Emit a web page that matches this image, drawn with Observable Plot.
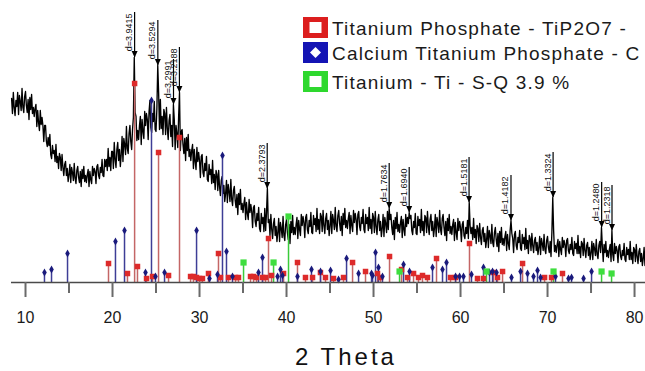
<!DOCTYPE html>
<html><head><meta charset="utf-8">
<script src="https://cdn.jsdelivr.net/npm/d3@7"></script>
<script src="https://cdn.jsdelivr.net/npm/@observablehq/plot@0.6"></script>
<style>
html,body{margin:0;padding:0;background:#fff;}
#wrap{position:relative;width:645px;height:371px;overflow:hidden;font-family:"Liberation Sans",Arial,sans-serif;}
#chart{position:absolute;left:0;top:0;}
#overlay{position:absolute;left:0;top:0;}
</style></head><body>
<div id="wrap"><div id="chart"></div><svg id="overlay" width="645" height="371"></svg></div>
<script>
// ---- measured scan (2θ from 8.4° in 0.1° steps), intensity in arbitrary units ----
const scanStart = 8.4;
const scanStep = 0.1;
const scanCounts = [
 184,169,190,175,167,182,
 176,190,168,187,181,172,194,175,170,186,
 191,177,170,183,163,185,173,188,169,175,
 166,174,178,156,172,160,152,172,158,165,
 157,141,157,157,141,136,145,137,148,128,
 124,137,129,132,121,138,120,126,114,129,
 125,112,128,115,107,118,121,107,114,101,
 108,118,100,115,110,102,119,104,99,112,
 116,105,100,111,96,113,104,116,101,107,
 100,108,113,96,111,103,99,116,107,114,
 111,99,116,118,107,104,115,110,123,107,
 106,123,116,123,112,134,116,125,112,131,
 131,114,140,123,115,133,140,122,133,116,
 128,146,121,144,138,128,156,134,129,149,
 157,141,133,153,165,225,170,166,142,152,
 143,157,166,138,163,151,144,171,157,169,
 163,143,171,182,155,150,169,161,181,153,
 151,174,217,190,153,183,154,166,148,173,
 169,148,175,154,143,162,168,146,157,136,
 178,163,133,157,149,135,166,190,132,151,
 153,138,129,144,122,145,132,148,126,133,
 122,132,138,114,133,121,113,135,121,130,
 122,105,126,128,110,106,119,112,126,103,
 101,118,108,113,99,122,100,108,93,112,
 108,92,112,96,87,102,106,89,97,81,
 89,102,80,98,91,81,103,83,77,92,
 96,82,75,88,68,89,78,93,73,79,
 70,79,85,63,80,69,63,83,70,78,
 71,55,75,77,61,56,69,62,75,54,
 51,69,59,65,51,74,52,70,94,60,
 63,47,68,53,44,59,64,47,56,41,
 50,64,41,60,54,45,66,47,42,58,
 63,50,43,58,39,61,50,67,48,55,
 48,58,65,44,62,53,47,68,57,66,
 60,45,65,68,53,49,62,56,70,50,
 49,67,58,64,51,74,53,63,49,69,
 66,51,72,57,49,64,69,53,62,47,
 57,71,49,68,62,53,75,56,51,67,
 72,59,52,66,47,69,58,74,55,62,
 54,64,70,49,67,57,51,72,60,69,
 63,48,68,71,56,52,65,59,73,53,
 50,68,59,65,52,75,54,63,49,69,
 65,50,71,56,48,63,68,52,61,46,
 54,68,46,65,59,50,71,53,74,63,
 68,55,48,62,43,65,54,70,51,58,
 50,60,66,45,63,53,47,68,56,65,
 59,70,64,67,52,48,61,55,69,49,
 48,66,57,63,50,73,52,61,47,67,
 65,50,71,56,48,63,68,52,61,46,
 54,68,46,65,59,50,72,53,48,64,
 68,55,47,61,42,64,52,68,49,56,
 48,58,63,42,60,50,43,64,52,61,
 55,41,58,61,47,44,55,49,62,44,
 80,57,49,55,43,64,45,53,39,57,
 54,41,59,45,38,52,55,41,49,35,
 43,56,35,52,47,39,58,40,36,50,
 55,43,36,49,31,51,40,55,38,44,
 37,46,51,32,48,39,33,52,62,49,
 44,30,48,51,37,33,45,40,52,34,
 32,48,39,45,33,54,34,42,29,47,
 44,32,49,37,30,42,45,32,40,28,
 35,46,28,44,39,32,48,33,29,42,
 46,35,30,41,26,50,85,52,31,37,
 30,38,43,26,41,33,28,45,35,42,
 38,26,42,44,32,29,38,33,45,29,
 27,41,34,39,29,47,29,36,25,41,
 39,27,44,32,25,37,40,27,35,23,
 30,41,23,39,34,27,43,28,24,37,
 41,30,55,36,21,38,30,41,26,32,
 25,33,38,21,52,28,22,39,29,36,
 32,20,36,38,26,23,32,27,39,23,
 21,35,28,33,23,41,23,30,19,35,
 33,21,38,26,19,31,34,21,29,17,
 24,35,17,33
];

// ---- reference patterns: [2θ, relative height] ----
const tip2o7Lines = [
 [19.54,19],[21.72,9],[22.54,199],[22.87,16],[23.91,4],[24.6,6],[25.29,130],[26.44,7],[27.7,145],
 [28.97,6],[29.3,6],[29.66,5],[30.0,4],[30.34,4],[31.03,9],[32.18,29],[32.41,5],[33.33,5],[34.14,5],
 [34.48,5],[35.86,6],[36.21,6],[36.55,5],[37.24,5],[37.59,5],[37.93,44],[38.28,7],[39.66,9],[41.26,20],
 [42.18,5],[42.99,5],[43.9,10],[44.48,5],[45.4,4],[46.55,5],[47.59,20],[49.08,11],[50.46,9],[50.8,5],
 [51.84,26],[53.22,13],[53.91,5],[54.6,9],[55.17,5],[55.63,7],[56.2,5],[57.24,24],[58.85,5],[59.43,5],
 [61.03,39],[61.95,4],[62.64,4],[63.79,10],[64.25,5],[64.83,11],[67.13,19],[69.66,5],[70.46,5],[71.72,9]
];
const caTiPhosphateLines = [
 [12.18,10],[12.99,13],[14.83,29],[20.34,41],[21.38,52],[23.79,10],[24.48,182],[24.94,6],[25.98,10],
 [29.66,52],[31.15,4],[32.07,8],[32.64,127],[33.1,31],[33.79,6],[36.78,10],[37.24,25],[38.97,6],
 [39.31,13],[39.54,7],[41.26,6],[42.87,13],[43.91,11],[45.06,12],[45.98,3],[46.9,24],[48.28,9],
 [49.77,9],[49.89,7],[50.23,30],[50.57,15],[51.03,6],[53.45,18],[54.14,11],[56.78,15],[57.93,13],
 [58.39,20],[59.43,6],[59.89,6],[60.34,6],[61.26,8],[62.64,15],[63.33,10],[63.68,11],[64.14,10],
 [65.86,5],[66.9,11],[67.7,9],[68.39,6],[68.85,12],[69.2,5],[70.92,6],[72.41,4],[72.76,5],[74.14,4],[75.06,11]
];
const titaniumLines = [
 [35.06,20],[38.51,20],[40.23,66],[52.99,11],[62.99,11],[70.69,11],[76.21,11],[77.36,9]
];

// ---- labelled peaks ----
const dLabels = ["d=3.9415","d=3.5294","d=3.2991","d=3.2188","d=2.3793","d=1.7634","d=1.6940","d=1.5181","d=1.4182","d=1.3324","d=1.2480","d=1.2318"];
const dTheta  = [22.54, 25.21, 27.01, 27.69, 37.78, 51.80, 54.10, 60.98, 65.80, 70.64, 76.22, 77.41];
const dPeak   = [225, 217, 178, 190, 94, 74, 70, 80, 62, 85, 55, 52];

// ---- axis & legend text ----
const majorTicks = [10, 20, 30, 40, 50, 60, 70, 80];
const minorTicks = [15, 25, 35, 45, 55, 65, 75];
const xTitle = "2 Theta";
const legendNames = ["Titanium Phosphate - TiP2O7 -", "Calcium Titanium Phosphate - C", "Titanium - Ti - S-Q 3.9 %"];
const legendColors = ["#dc1e1e", "#1414b4", "#2ed82e"];

const scan = scanCounts.map((c, i) => ({theta: +(scanStart + i * scanStep).toFixed(2), counts: c}));
const rows = pairs => pairs.map(([theta, h]) => ({theta, h}));
const red = rows(tip2o7Lines), blue = rows(caTiPhosphateLines), green = rows(titaniumLines);
const peaks = dLabels.map((label, i) => ({label, theta: dTheta[i], top: dPeak[i]}));

const arrowDown = {draw(ctx) { ctx.moveTo(0, 0); ctx.lineTo(-3, -6.5); ctx.lineTo(3, -6.5); ctx.closePath(); }};
const labelRise = 45;

const chart = Plot.plot({
  width: 645, height: 330,
  marginTop: 0, marginBottom: 48, marginLeft: 11, marginRight: 0,
  style: {background: "transparent", fontFamily: "'Liberation Sans', Arial, sans-serif", overflow: "visible"},
  x: {domain: [8.39, 81.26]},
  y: {domain: [0, 282], axis: null},
  marks: [
    Plot.line(scan, {x: "theta", y: "counts", stroke: "#000", strokeWidth: 1.35}),
    Plot.ruleX(red, {x: "theta", y1: 0, y2: "h", stroke: "#c46666", strokeWidth: 1.5}),
    Plot.ruleX(blue, {x: "theta", y1: 0, y2: "h", stroke: "#3e3e96", strokeWidth: 1.5}),
    Plot.ruleX(green, {x: "theta", y1: 0, y2: "h", stroke: "#3acb3a", strokeWidth: 1.5}),
    Plot.dot(red, {x: "theta", y: "h", symbol: "square", r: 3.1, fill: "#dd2a2a"}),
    Plot.dot(blue, {x: "theta", y: "h", symbol: "diamond", r: 2.4, fill: "#1a1a7c"}),
    Plot.dot(green, {x: "theta", y: "h", symbol: "square", r: 3.5, fill: "#3ede3e"}),
    Plot.ruleY([0], {stroke: "#4a4a4a", strokeWidth: 1.5}),
    Plot.axisX({ticks: minorTicks, tickSize: 11, tickFormat: () => "", stroke: "#6a6a6a", strokeWidth: 2, label: null}),
    Plot.axisX({ticks: majorTicks, tickSize: 15, tickPadding: 14, tickFormat: d => String(d), fontSize: 16,
                stroke: "#6a6a6a", strokeWidth: 2, fill: "#1a1a1a", label: null}),
    Plot.ruleX(peaks, {x: "theta", y1: "top", y2: d => d.top + labelRise, stroke: "#000", strokeWidth: 1.2}),
    Plot.dot(peaks, {x: "theta", y: "top", symbol: arrowDown, fill: "#000", stroke: null, r: 3}),
    Plot.text(peaks, {x: "theta", y: d => d.top + labelRise, text: "label", rotate: -90, textAnchor: "end",
                      lineAnchor: "bottom", dx: -2.5, dy: 1, fontSize: 9, fill: "#111"})
  ]
});
document.getElementById("chart").append(chart);

// ---- legend and x title ----
const ov = d3.select("#overlay");
const boxTops = [17, 42, 71];
legendNames.forEach((name, i) => {
  const y0 = boxTops[i];
  ov.append("rect").attr("x", 303).attr("y", y0).attr("width", 25).attr("height", 21).attr("fill", legendColors[i]);
  if (i === 1) {
    ov.append("path").attr("d", `M315.5,${y0 + 5}L321,${y0 + 10.5}L315.5,${y0 + 16}L310,${y0 + 10.5}Z`).attr("fill", "#fff");
  } else {
    ov.append("rect").attr("x", 309.5).attr("y", y0 + 5).attr("width", 12).attr("height", 11).attr("fill", "#fff");
  }
  ov.append("text").attr("x", 332).attr("y", y0 + 18).text(name)
    .attr("font-family", "'Liberation Sans', Arial, sans-serif").attr("font-size", 19)
    .attr("letter-spacing", 1.2).attr("fill", "#1a1a1a");
});
ov.append("text").attr("x", 346).attr("y", 365).attr("text-anchor", "middle").text(xTitle)
  .attr("font-family", "'Liberation Sans', Arial, sans-serif").attr("font-size", 24)
  .attr("letter-spacing", 3).attr("fill", "#111");
</script>
</body></html>
